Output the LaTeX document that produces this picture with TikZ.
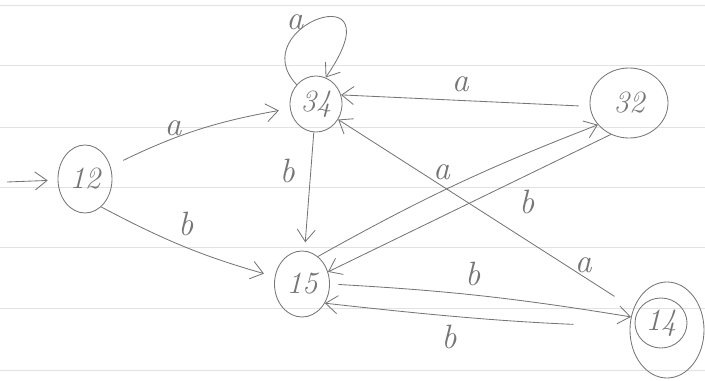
\documentclass[tikz,border=0pt]{standalone}
\usepackage{tikz}
\usetikzlibrary{shapes.geometric, arrows.meta, positioning, calc}
\definecolor{pencil}{RGB}{118,118,118}
\definecolor{ruling}{RGB}{226,226,226}
\tikzstyle{state} = [ellipse, draw=pencil, line width=0.6pt, inner sep=0pt, text=pencil, font=\fontsize{22}{22}\selectfont\itshape]
\tikzstyle{lbl} = [text=pencil, inner sep=2pt, font=\fontsize{24}{24}\selectfont\itshape]
\tikzstyle{arrow} = [draw=pencil, line width=0.6pt, -{Straight Barb[length=3mm, width=4.5mm]}]

\begin{document}
\begin{tikzpicture}[x=0.025cm, y=-0.025cm]
        \useasboundingbox (0,0) rectangle (705,381);

        % Ruled paper
        \foreach \yy in {5,65,127,187,247,308,370}
            \draw [ruling, line width=0.5pt] (0,\yy) -- (705,\yy);

        % States
        \node (q12) [state, minimum width=1.35cm, minimum height=1.7cm] at (85,179) {12};
        \node (q34) [state, minimum width=1.3cm, minimum height=1.4cm] at (316,104) {34};
        \node (q32) [state, minimum width=1.95cm, minimum height=1.75cm] at (629,103) {32};
        \node (q15) [state, minimum width=1.375cm, minimum height=1.65cm] at (302,284) {15};
        \node (q14) [state, minimum width=1.3cm, minimum height=1.25cm] at (661,323) {14};
        \node (q14o) [state, minimum width=1.85cm, minimum height=2.4cm] at (667,330) {};
        \coordinate (start) at (7,182);

        % Start arrow
        \draw [arrow, shorten >=7pt] (start) -- (q12);

        % Transitions on a
        \draw [arrow, shorten <=10pt, shorten >=8pt] (q12) to[bend left=8] node[lbl, pos=0.35, above] {a} (q34);
        \draw [arrow] (q34.135) .. controls +(-55,-58) and +(75,-108) .. node[lbl, pos=0.32, above=1pt] {a} (q34.70);
        \draw [arrow, shorten <=8pt] (q32.185) -- node[lbl, pos=0.52, above=4pt] {a} (q34.20);
        \draw [arrow, shorten <=16pt] (q14o) -- node[lbl, pos=0.17, above] {a} (q34.-35);
        \draw [arrow] (q15.60) to[bend left=4] node[lbl, pos=0.5, above left=2pt] {a} (q32.215);

        % Transitions on b
        \draw [arrow, shorten >=8pt] (q12.-60) to[bend right=6] node[lbl, pos=0.5, above=6pt] {b} (q15);
        \draw [arrow, shorten >=6pt] (q34) -- node[lbl, pos=0.33, left=9pt] {b} (q15);
        \draw [arrow] (q32.240) -- node[lbl, pos=0.35, below right=4pt] {b} (q15.25);
        \draw [arrow, shorten <=6pt] (q15.0) to[bend left=3] node[lbl, pos=0.47, above=4pt] {b} (q14o.160);
        \draw [arrow, shorten <=40pt] (q14o.175) to[bend left=2] node[lbl, pos=0.6, below=4pt] {b} (q15.-40);

    \end{tikzpicture}
\end{document}
